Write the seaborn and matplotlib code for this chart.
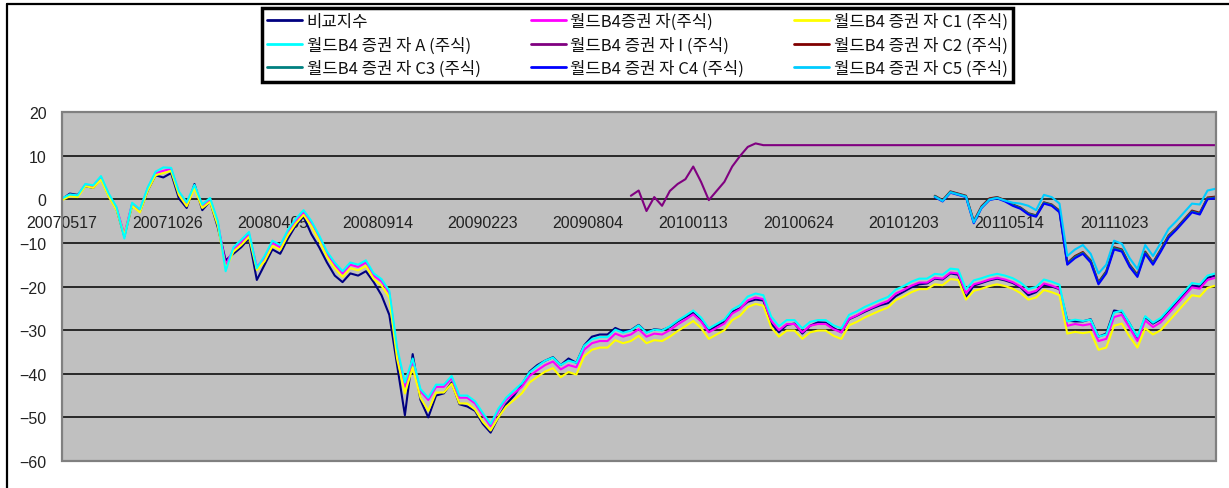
import numpy as np
import pandas as pd
import matplotlib
matplotlib.use("Agg")
import matplotlib.pyplot as plt
import seaborn as sns
from matplotlib.lines import Line2D
from matplotlib.patches import Rectangle
from matplotlib.font_manager import FontProperties

# ---------------- data ----------------
STEP_DAYS = 12          # sampling step of the series (calendar days)
TICK_EVERY = 162        # category label interval (calendar days)
N_DAYS = 1777

x_tick_labels = ["20070517", "20071026", "20080405", "20080914", "20090223",
                 "20090804", "20100113", "20100624", "20101203", "20110514",
                 "20111023"]

series_names = ["비교지수", "월드B4증권 자(주식)", "월드B4 증권 자 C1 (주식)",
                "월드B4 증권 자 A (주식)", "월드B4 증권 자 I (주식)", "월드B4 증권 자 C2 (주식)",
                "월드B4 증권 자 C3 (주식)", "월드B4 증권 자 C4 (주식)", "월드B4 증권 자 C5 (주식)"]
series_colors = ["#000080", "#FF00FF", "#FFFF00", "#00FFFF", "#800080",
                 "#800000", "#008080", "#0000FF", "#00CCFF"]

benchmark = [0, 1.3, 1.0, 3.0, 2.6, 4.8, 0.8, -2.3, -8.5, -1.3,
             -2.8, 2.0, 5.5, 5.0, 6.0, 0.2, -2.0, 3.5, -2.5, -0.5,
             -6.5, -14.0, -12.5, -11.0, -9.0, -18.5, -15.0, -11.5, -12.5, -9.0,
             -6.0, -4.0, -8.0, -11.0, -14.5, -17.5, -19.0, -17.0, -17.5, -16.5,
             -19.0, -22.0, -26.5, -38.0, -49.5, -35.5, -46.0, -50.0, -45.0, -44.5,
             -42.0, -47.0, -47.5, -48.5, -51.5, -53.5, -50.0, -47.0, -45.0, -42.5,
             -39.5, -38.0, -37.0, -36.2, -38.0, -36.5, -37.5, -33.5, -31.5, -31.0,
             -31.0, -29.5, -30.3, -30.0, -28.8, -30.5, -29.8, -30.0, -29.3, -28.0,
             -27.0, -26.0, -27.8, -30.2, -29.0, -28.0, -25.8, -25.0, -23.5, -23.0,
             -23.2, -28.5, -30.5, -28.8, -28.5, -30.8, -29.0, -28.2, -28.3, -29.5,
             -30.5, -27.5, -26.7, -25.8, -25.0, -24.3, -23.8, -22.2, -21.2, -20.2,
             -19.5, -19.3, -18.2, -18.4, -17.0, -17.3, -22.5, -19.8, -19.2, -18.6,
             -18.2, -18.6, -19.2, -20.2, -22.0, -21.3, -19.6, -20.0, -20.6, -27.8,
             -28.0, -28.0, -27.5, -31.5, -30.8, -25.5, -25.8, -28.5, -31.8, -27.0,
             -28.5, -27.5, -25.5, -23.8, -21.8, -19.8, -20.0, -18.0, -17.5]

fund_main = [0, 1.0, 0.8, 3.4, 3.0, 5.0, 1.0, -2.0, -8.0, -1.0,
             -2.5, 2.5, 6.0, 6.5, 7.0, 1.5, -1.0, 3.0, -1.5, 0.0,
             -5.5, -15.0, -11.5, -9.8, -8.0, -15.5, -13.5, -10.0, -11.0, -7.5,
             -5.0, -3.0, -5.5, -8.8, -12.5, -15.0, -17.0, -15.0, -15.5, -14.5,
             -17.5, -18.8, -21.5, -35.0, -43.0, -37.0, -44.0, -46.0, -43.0, -43.0,
             -41.0, -45.5, -45.5, -46.8, -49.5, -52.0, -48.5, -46.0, -44.5, -43.0,
             -40.5, -39.2, -38.0, -37.2, -39.0, -38.0, -38.5, -34.5, -33.0, -32.5,
             -32.5, -30.8, -31.5, -31.0, -29.8, -31.5, -30.8, -31.0, -30.0, -28.7,
             -27.6, -26.4, -28.0, -30.5, -29.5, -28.5, -26.2, -25.2, -23.2, -22.5,
             -22.9, -27.8, -30.0, -28.6, -28.6, -30.5, -29.0, -28.6, -28.6, -29.8,
             -30.5, -27.4, -26.6, -25.6, -24.8, -24.0, -23.3, -21.6, -20.8, -19.8,
             -19.1, -19.1, -18.0, -18.2, -16.8, -17.0, -21.5, -19.5, -19.0, -18.4,
             -18.0, -18.4, -19.0, -20.0, -21.5, -21.0, -19.3, -19.8, -20.5, -29.0,
             -28.6, -28.9, -28.6, -32.5, -32.0, -27.0, -26.5, -29.5, -32.5, -27.8,
             -29.3, -28.2, -26.2, -24.2, -22.2, -20.2, -20.5, -18.5, -18.0]

fund_c1 = [-0.2, 0.7, 0.5, 3.0, 2.6, 4.5, 0.6, -2.5, -8.3, -1.5,
           -3.0, 2.0, 5.5, 6.0, 6.5, 1.0, -1.6, 2.5, -2.0, -0.6,
           -6.0, -16.0, -12.0, -10.5, -8.6, -16.2, -14.2, -10.7, -11.6, -8.2,
           -5.6, -3.6, -6.2, -9.5, -13.2, -15.8, -17.8, -15.8, -16.3, -15.3,
           -18.3, -19.8, -22.5, -36.5, -44.5, -38.5, -45.5, -48.5, -44.3, -44.3,
           -42.3, -46.8, -46.8, -48.2, -51.0, -53.0, -50.0, -47.5, -46.0, -44.5,
           -42.0, -40.7, -39.5, -38.7, -40.8, -39.6, -40.2, -36.0, -34.5, -34.0,
           -34.0, -32.3, -33.0, -32.5, -31.3, -33.0, -32.3, -32.5, -31.5, -30.2,
           -29.1, -27.9, -29.5, -32.0, -31.0, -30.0, -27.7, -26.7, -24.7, -24.0,
           -24.4, -29.3, -31.5, -30.1, -30.1, -32.0, -30.5, -30.1, -30.1, -31.3,
           -32.0, -28.9, -28.1, -27.1, -26.3, -25.5, -24.8, -23.1, -22.3, -21.3,
           -20.6, -20.6, -19.5, -19.7, -18.3, -18.5, -23.0, -21.0, -20.5, -19.9,
           -19.5, -19.9, -20.5, -21.5, -23.0, -22.5, -20.8, -21.3, -22.0, -30.8,
           -30.4, -30.7, -30.4, -34.5, -34.0, -29.0, -28.5, -31.5, -34.0, -29.6,
           -31.0, -30.0, -28.0, -26.0, -24.0, -22.0, -22.3, -20.3, -19.8]

fund_a = [0.2, 1.1, 0.9, 3.5, 3.2, 5.3, 1.3, -1.8, -9.0, -0.8,
          -2.3, 2.7, 6.3, 7.3, 7.2, 1.8, -0.7, 3.3, -1.2, 0.3,
          -5.0, -16.5, -11.0, -9.3, -7.5, -15.8, -13.0, -9.5, -10.5, -7.0,
          -4.5, -2.5, -5.0, -8.3, -12.0, -14.5, -16.5, -14.5, -15.0, -14.0,
          -17.0, -18.3, -21.0, -34.0, -42.0, -36.5, -43.5, -45.5, -42.5, -42.5,
          -40.5, -45.0, -45.0, -46.3, -49.0, -51.5, -48.0, -45.5, -43.8, -42.2,
          -39.7, -38.3, -37.0, -36.3, -38.0, -37.0, -37.5, -33.6, -32.1, -31.6,
          -31.6, -29.9, -30.6, -30.1, -28.9, -30.6, -29.9, -30.1, -29.1, -27.8,
          -26.7, -25.5, -27.1, -29.6, -28.6, -27.6, -25.3, -24.3, -22.3, -21.6,
          -22.0, -26.9, -29.1, -27.7, -27.7, -29.6, -28.1, -27.7, -27.7, -28.9,
          -29.6, -26.5, -25.7, -24.7, -23.9, -23.1, -22.4, -20.7, -19.9, -18.9,
          -18.2, -18.2, -17.1, -17.3, -15.9, -16.1, -20.6, -18.6, -18.1, -17.5,
          -17.1, -17.5, -18.1, -19.1, -20.6, -20.1, -18.4, -18.9, -19.6, -28.0,
          -27.6, -27.9, -27.6, -31.5, -31.0, -26.0, -25.5, -28.5, -31.5, -26.8,
          -28.3, -27.2, -25.2, -23.2, -21.2, -19.2, -19.5, -17.5, -17.0]

I_START = 73
fund_i = [0.8, 2.0, -2.7, 0.5, -1.5, 1.9, 3.5, 4.6, 7.5, 4.0,
          -0.2, 1.9, 4.0, 7.5, 9.9, 12.0, 12.8,
          12.4, 12.4, 12.4, 12.4, 12.4, 12.4, 12.4, 12.4, 12.4, 12.4,
          12.4, 12.4, 12.4, 12.4, 12.4, 12.4, 12.4, 12.4, 12.4, 12.4,
          12.4, 12.4, 12.4, 12.4, 12.4, 12.4, 12.4, 12.4, 12.4, 12.4,
          12.4, 12.4, 12.4, 12.4, 12.4, 12.4, 12.4, 12.4, 12.4, 12.4,
          12.4, 12.4, 12.4, 12.4, 12.4, 12.4, 12.4, 12.4, 12.4, 12.4,
          12.4, 12.4, 12.4, 12.4, 12.4, 12.4, 12.4, 12.4, 12.4]

LATE_START = 112
fund_c2 = [0.8, -0.2, 1.8, 1.3, 0.8, -5.0, -1.6, 0.2, 0.5, -0.2,
           -1.2, -1.9, -3.2, -3.7, -0.7, -1.2, -2.6, -14.6, -13.0, -12.1,
           -14.0, -19.0, -16.5, -11.0, -11.5, -15.0, -17.3, -12.0, -14.5, -11.5,
           -8.3, -6.6, -4.6, -2.6, -3.1, 0.4, 0.6]
fund_c3 = [0.7, -0.3, 1.7, 1.2, 0.7, -5.2, -1.8, 0.0, 0.4, -0.3,
           -1.3, -2.0, -3.3, -3.8, -0.8, -1.3, -2.8, -14.8, -13.2, -12.3,
           -14.2, -19.2, -16.7, -11.2, -11.7, -15.2, -17.5, -12.2, -14.7, -11.7,
           -8.5, -6.8, -4.8, -2.8, -3.3, 0.2, 0.4]
fund_c4 = [0.5, -0.5, 1.5, 1.0, 0.5, -5.5, -2.0, -0.2, 0.2, -0.5,
           -1.5, -2.2, -3.5, -4.0, -1.0, -1.5, -3.0, -15.0, -13.5, -12.5,
           -14.5, -19.5, -17.0, -11.5, -12.0, -15.5, -17.8, -12.5, -15.0, -12.0,
           -8.8, -7.0, -5.0, -3.0, -3.5, 0.0, 0.2]
fund_c5 = [0.6, -0.4, 1.6, 1.1, 0.6, -5.3, -1.9, -0.1, 0.3, -0.3,
           -0.8, -1.0, -1.5, -2.5, 1.0, 0.5, -1.0, -13.0, -11.5, -10.5,
           -12.5, -17.0, -15.0, -9.5, -10.2, -13.5, -16.0, -10.5, -13.0, -10.0,
           -6.8, -5.0, -3.0, -1.0, -1.2, 2.0, 2.4]

series_values = [benchmark, fund_main, fund_c1, fund_a, fund_i,
                 fund_c2, fund_c3, fund_c4, fund_c5]
series_start = [0, 0, 0, 0, I_START, LATE_START, LATE_START, LATE_START, LATE_START]

rows = []
for name, vals, start in zip(series_names, series_values, series_start):
    for i, v in enumerate(vals):
        rows.append({"day": (start + i) * STEP_DAYS, "value": v, "series": name})
df = pd.DataFrame(rows)

# ---------------- plot ----------------
sns.set_theme(style="white")
plt.rcParams["font.family"] = ["Liberation Sans", "DejaVu Sans"]
plt.rcParams["axes.unicode_minus"] = True

W, H = 1229, 489
fig = plt.figure(figsize=(W / 100, H / 100), dpi=100)
fig.patch.set_facecolor("white")
ax = fig.add_axes([62 / W, (H - 462) / H, (1216 - 62) / W, (462 - 113) / H])
ax.set_facecolor("#C0C0C0")

sns.lineplot(data=df, x="day", y="value", hue="series", hue_order=series_names,
             palette=dict(zip(series_names, series_colors)), estimator=None,
             sort=False, legend=False, linewidth=1.5, ax=ax)
for ln in ax.lines:
    ln.set_zorder(3)

ax.set_xlim(0, N_DAYS)
ax.set_ylim(-60, 20)
ax.set_yticks(np.arange(-60, 21, 10))
ax.set_xticks([k * TICK_EVERY for k in range(len(x_tick_labels))])
ax.set_xticklabels(x_tick_labels)
ax.set_xlabel("")
ax.set_ylabel("")
ax.set_axisbelow(True)
ax.yaxis.grid(True, color="black", linewidth=1.1)
ax.xaxis.grid(False)
for s in ["top", "left", "right"]:
    ax.spines[s].set_visible(False)
ax.spines["bottom"].set_position(("data", 0))
ax.spines["bottom"].set_visible(False)
ax.tick_params(axis="x", length=0, pad=11, labelsize=11.5, colors="#222222")
ax.tick_params(axis="y", length=0, pad=11, labelsize=11.5, colors="#222222")
ax.add_patch(Rectangle((0, 0), 1, 1, transform=ax.transAxes, fill=False,
                       edgecolor="#808080", linewidth=1.6, zorder=5, clip_on=False))

# outer chart-area frame (top and left visible)
fig.add_artist(Line2D([7 / W, 1], [1 - 5 / H, 1 - 5 / H], color="black", linewidth=1.6))
fig.add_artist(Line2D([7 / W, 7 / W], [0, 1 - 5 / H], color="black", linewidth=1.6))

# legend, row-wise order -> column-wise for matplotlib
handles = [Line2D([], [], color=c, linewidth=2) for c in series_colors]
order = [0, 3, 6, 1, 4, 7, 2, 5, 8]
leg = fig.legend([handles[i] for i in order], [series_names[i] for i in order],
                 ncol=3, loc="center", bbox_to_anchor=(637.5 / W, 1 - 46 / H),
                 frameon=True, fancybox=False, framealpha=1, edgecolor="black",
                 prop=FontProperties(family=["Noto Sans CJK KR", "DejaVu Sans"], size=12),
                 handlelength=2.1, handletextpad=0.3, columnspacing=3.0,
                 labelspacing=0.38, borderpad=0.3)
leg.get_frame().set_linewidth(2.5)
for t in leg.get_texts():
    t.set_color("#111111")

fig.savefig("out.png", dpi=100, facecolor="white")
